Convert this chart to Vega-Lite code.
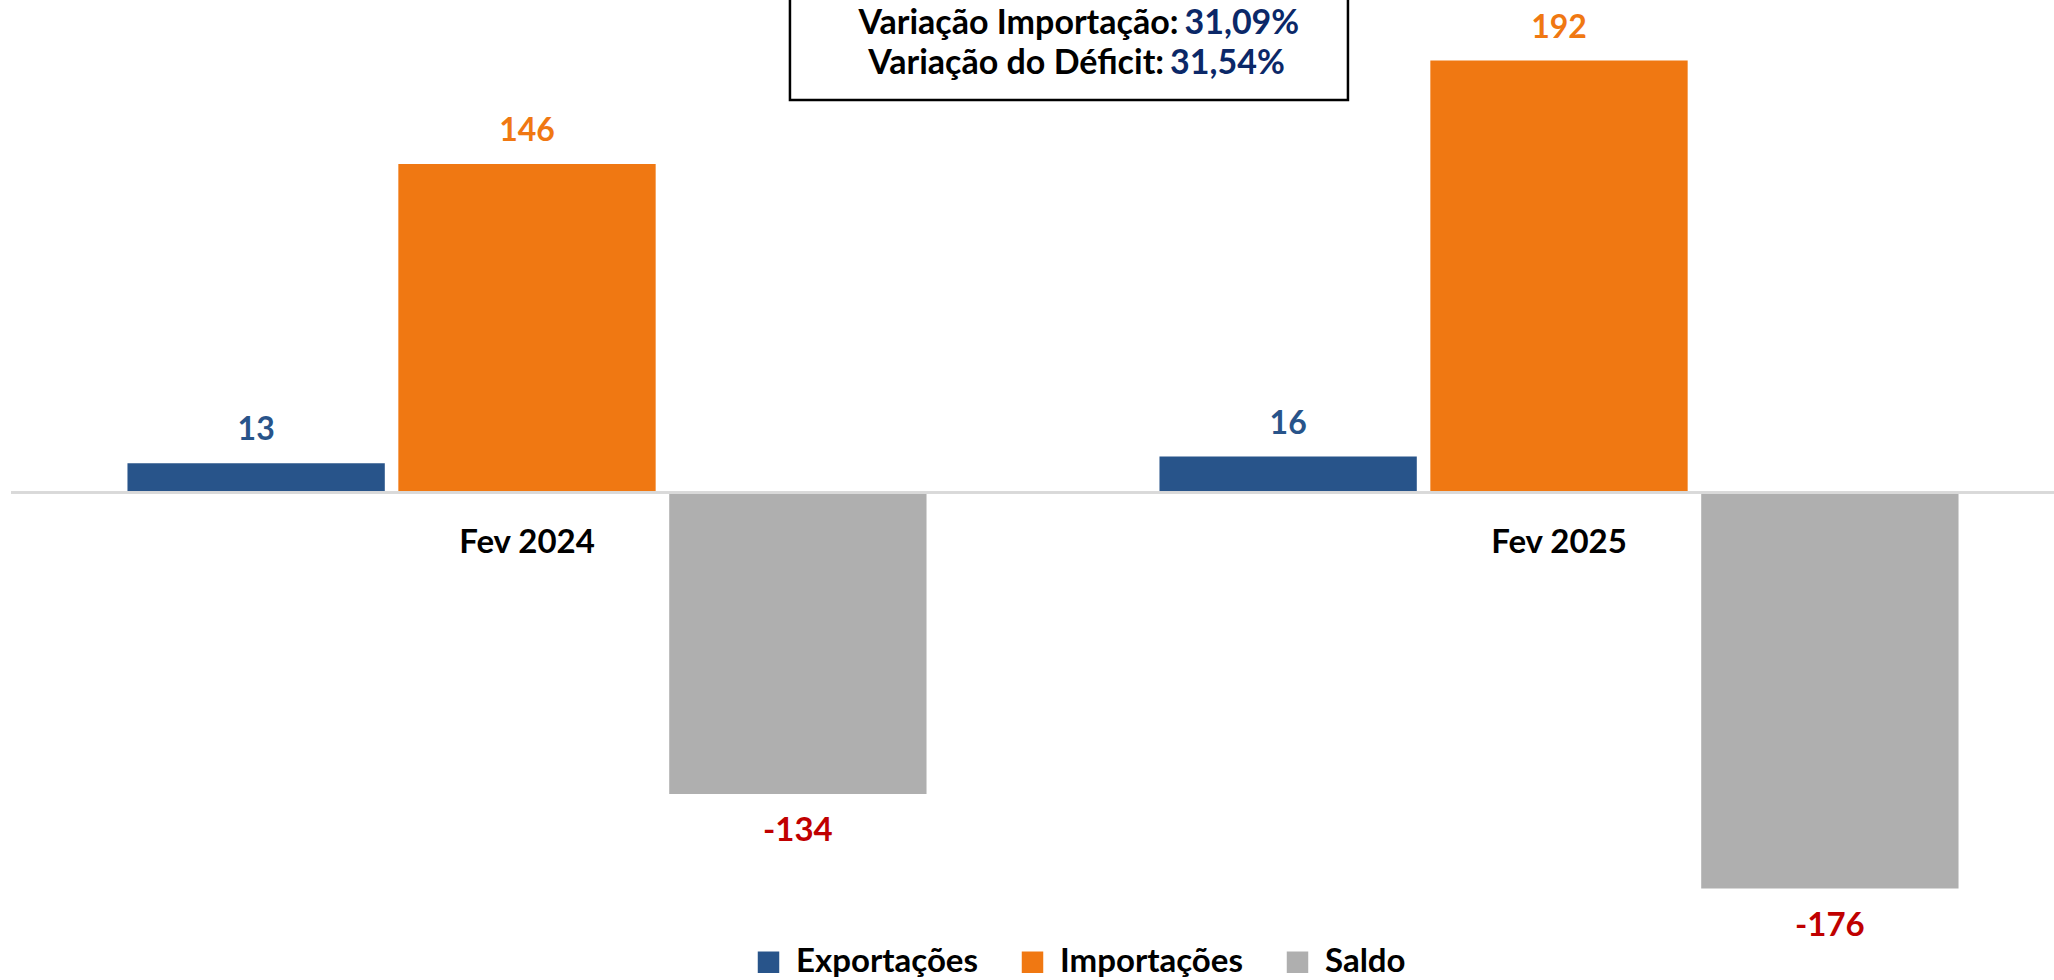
{
  "$schema": "https://vega.github.io/schema/vega-lite/v6.json",
  "width": 2064,
  "height": 900,
  "autosize": {"type": "none"},
  "padding": {"left": 11, "top": 42.5, "right": 0, "bottom": 40},
  "background": "white",
  "config": {"view": {"stroke": null}, "font": "Lato"},
  "data": {"values": [
    {"categoria": "Fev 2024", "serie": "Exportações", "valor": 13},
    {"categoria": "Fev 2024", "serie": "Importações", "valor": 146},
    {"categoria": "Fev 2024", "serie": "Saldo", "valor": -134},
    {"categoria": "Fev 2025", "serie": "Exportações", "valor": 16},
    {"categoria": "Fev 2025", "serie": "Importações", "valor": 192},
    {"categoria": "Fev 2025", "serie": "Saldo", "valor": -176}
  ]},
  "resolve": {"scale": {"x": "independent"}},
  "layer": [
    {
      "encoding": {
        "x": {"field": "categoria", "type": "nominal", "axis": null, "scale": {"paddingInner": 0, "paddingOuter": 0}},
        "xOffset": {"field": "serie", "type": "nominal", "scale": {"domain": ["Exportações", "Importações", "Saldo"], "paddingInner": 0.05, "paddingOuter": 0.43}},
        "y": {"field": "valor", "type": "quantitative", "axis": null, "scale": {"domain": [-200, 200], "nice": false, "zero": true}}
      },
      "layer": [
        {
          "mark": {"type": "bar"},
          "encoding": {
            "color": {"field": "serie", "type": "nominal",
              "scale": {"domain": ["Exportações", "Importações", "Saldo"], "range": ["#28548A", "#F07812", "#AFAFAF"]},
              "legend": {"orient": "none", "legendX": 741, "legendY": 903, "direction": "horizontal", "title": null,
                "symbolType": "square", "symbolSize": 462, "symbolStrokeWidth": 0, "symbolOpacity": 1,
                "labelFont": "Lato", "labelFontWeight": "bold", "labelFontSize": 33, "labelColor": "#000000",
                "labelOffset": 11, "columnPadding": 38, "labelLimit": 400}
            }
          }
        },
        {
          "transform": [{"filter": "datum.valor >= 0"}],
          "mark": {"type": "text", "font": "Lato", "fontWeight": "bold", "fontSize": 32, "baseline": "middle", "dy": -33},
          "encoding": {
            "text": {"field": "valor", "type": "nominal"},
            "color": {"field": "serie", "type": "nominal", "legend": null}
          }
        },
        {
          "transform": [{"filter": "datum.valor < 0"}],
          "mark": {"type": "text", "font": "Lato", "fontWeight": "bold", "fontSize": 33, "baseline": "middle", "dy": 37, "color": "#C00000"},
          "encoding": {
            "text": {"field": "valor", "type": "nominal"}
          }
        },
        {
          "mark": {"type": "rule", "color": "#D9D9D9", "strokeWidth": 2},
          "encoding": {"y": {"datum": 0, "type": "quantitative"}, "x": null, "xOffset": null}
        },
        {
          "transform": [{"filter": "datum.serie === 'Exportações'"}],
          "mark": {"type": "text", "font": "Lato", "fontWeight": "bold", "fontSize": 33, "baseline": "middle", "dy": 50, "color": "#000000"},
          "encoding": {
            "xOffset": null,
            "y": {"datum": 0, "type": "quantitative"},
            "text": {"field": "categoria", "type": "nominal"}
          }
        }
      ]
    },
    {
      "data": {"values": [{}]},
      "layer": [
        {
          "mark": {"type": "rect", "fill": "white", "stroke": "#000000", "strokeWidth": 2.5},
          "encoding": {
            "x": {"datum": 0.7548, "type": "quantitative", "axis": null, "scale": {"domain": [0, 2], "nice": false, "zero": false}},
            "x2": {"datum": 1.2955},
            "y": {"datum": 230, "type": "quantitative"},
            "y2": {"datum": 174.4}
          }
        },
        {
          "mark": {"type": "text", "text": "Variação Importação:", "align": "right", "baseline": "alphabetic", "dx": -3, "font": "Lato", "fontWeight": "bold", "fontSize": 34, "color": "#000000"},
          "encoding": {"x": {"datum": 1.1342, "type": "quantitative"}, "y": {"datum": 203.6, "type": "quantitative"}}
        },
        {
          "mark": {"type": "text", "text": "31,09%", "align": "left", "baseline": "alphabetic", "dx": 3, "font": "Lato", "fontWeight": "bold", "fontSize": 34, "color": "#0B2868"},
          "encoding": {"x": {"datum": 1.1342, "type": "quantitative"}, "y": {"datum": 203.6, "type": "quantitative"}}
        },
        {
          "mark": {"type": "text", "text": "Variação do Déficit:", "align": "right", "baseline": "alphabetic", "dx": -3, "font": "Lato", "fontWeight": "bold", "fontSize": 34, "color": "#000000"},
          "encoding": {"x": {"datum": 1.1202, "type": "quantitative"}, "y": {"datum": 185.8, "type": "quantitative"}}
        },
        {
          "mark": {"type": "text", "text": "31,54%", "align": "left", "baseline": "alphabetic", "dx": 3, "font": "Lato", "fontWeight": "bold", "fontSize": 34, "color": "#0B2868"},
          "encoding": {"x": {"datum": 1.1202, "type": "quantitative"}, "y": {"datum": 185.8, "type": "quantitative"}}
        }
      ]
    }
  ]
}
